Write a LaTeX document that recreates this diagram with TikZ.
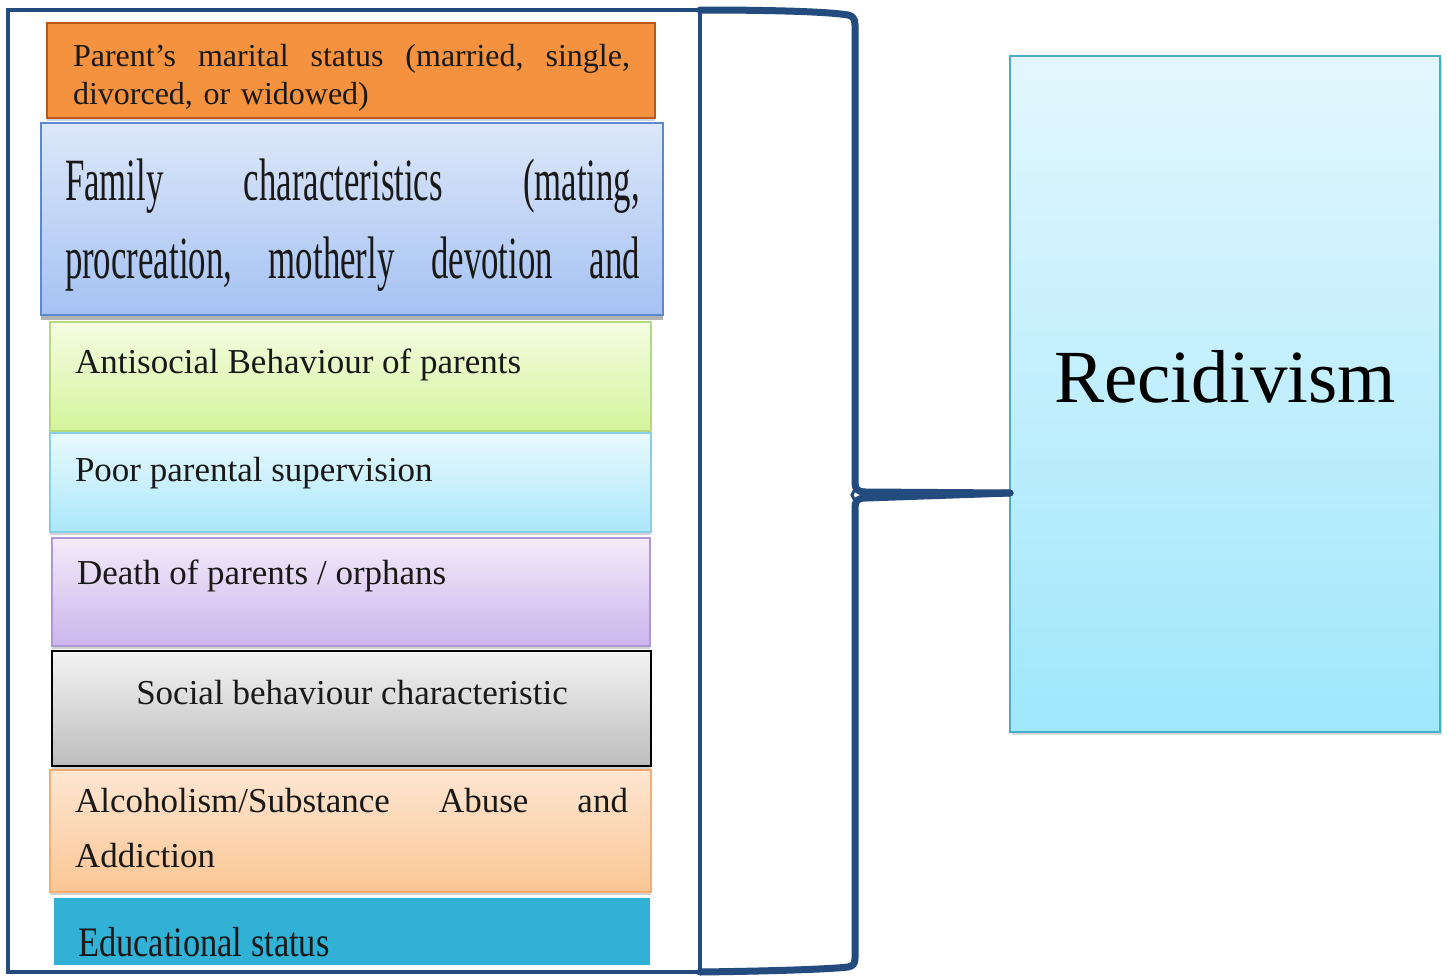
\documentclass[tikz,border=0pt]{standalone}
\usepackage{fontspec}
\setmainfont{Liberation Serif}
\newfontfamily\condfam[FakeStretch=0.58]{Liberation Serif}
\newfontfamily\condedu[FakeStretch=0.82]{Liberation Serif}
\usetikzlibrary{shadows,calc}
\definecolor{frameblue}{HTML}{234B7E}
\definecolor{orgF}{HTML}{F5923F}
\definecolor{orgD}{HTML}{B85A18}
\definecolor{famT}{HTML}{DDE7F9}
\definecolor{famB}{HTML}{A5C2F3}
\definecolor{famD}{HTML}{5A89D2}
\definecolor{grnT}{HTML}{F5FCE2}
\definecolor{grnB}{HTML}{D4F49C}
\definecolor{grnD}{HTML}{B5D97E}
\definecolor{lbT}{HTML}{E9F9FE}
\definecolor{lbB}{HTML}{ABE8FA}
\definecolor{lbD}{HTML}{86CFE6}
\definecolor{purT}{HTML}{F3EBF9}
\definecolor{purB}{HTML}{CCB5EC}
\definecolor{purD}{HTML}{AE98D6}
\definecolor{gryT}{HTML}{F3F3F3}
\definecolor{gryB}{HTML}{BDBDBD}
\definecolor{pchT}{HTML}{FDE6D2}
\definecolor{pchB}{HTML}{FBC694}
\definecolor{pchD}{HTML}{F5AE70}
\definecolor{tealF}{HTML}{32B1D6}
\definecolor{recT}{HTML}{E3F7FD}
\definecolor{recB}{HTML}{9FE7FC}
\definecolor{recD}{HTML}{4BACC6}
\tikzset{
  box/.style={rectangle, anchor=north west, inner sep=0pt, outer sep=0pt, line width=1.5pt},
  boxshadow/.style={drop shadow={shadow xshift=0pt, shadow yshift=-3pt, opacity=0.35}},
  txt/.style={inner sep=0pt, outer sep=0pt, anchor=base west, text=black!90},
  lbl/.style={txt, font=\fontsize{35}{55}\selectfont},
  bracepath/.style={draw=frameblue, line width=7pt, line join=round, line cap=round}
}
\begin{document}
\begin{tikzpicture}[x=1pt,y=-1pt]
\useasboundingbox (0,0) rectangle (1447,977);
\fill[white] (0,0) rectangle (1447,977);

% left stacked boxes
\node[box, boxshadow, draw=orgD, fill=orgF, line width=2.5pt, minimum width=608pt, minimum height=95pt] (b1) at (47,23) {};
\node[box, draw=famD, top color=famT, bottom color=famB, minimum width=622pt, minimum height=192pt, drop shadow={shadow xshift=0pt, shadow yshift=-5pt, opacity=0.6}] (b2) at (41,123) {};
\node[box, boxshadow, draw=grnD, top color=grnT, bottom color=grnB, minimum width=601pt, minimum height=109pt] (b3) at (50,322) {};
\node[box, boxshadow, draw=lbD, top color=lbT, bottom color=lbB, minimum width=601pt, minimum height=99pt] (b4) at (50,433) {};
\node[box, boxshadow, draw=purD, top color=purT, bottom color=purB, minimum width=598pt, minimum height=108pt] (b5) at (52,538) {};
\node[box, boxshadow, draw=black, line width=2pt, top color=gryT, bottom color=gryB, minimum width=599pt, minimum height=115pt] (b6) at (52,651) {};
\node[box, boxshadow, draw=pchD, top color=pchT, bottom color=pchB, minimum width=601pt, minimum height=122pt] (b7) at (50,770) {};
\node[box, fill=tealF, minimum width=596pt, minimum height=67pt] (b8) at (54,898) {};

% texts
\node[txt, font=\fontsize{32}{38}\selectfont, text width=557pt, align=left] (t1) at (73,66)
  {\hbox to 557pt{Parent’s\hfill marital\hfill status\hfill (married,\hfill single,}\\divorced, or widowed)};
\node[txt, font=\condfam\fontsize{60}{78}\selectfont, text width=575pt, align=left] (t2) at (65,200)
  {\hbox to 575pt{Family\hfill characteristics\hfill (mating,}\\\hbox to 575pt{procreation,\hfill motherly\hfill devotion\hfill and}};
\node[lbl] (t3) at (75,373) {Antisocial Behaviour of parents};
\node[lbl] (t4) at (75,481) {Poor parental supervision};
\node[lbl] (t5) at (77,584) {Death of parents / orphans};
\node[lbl, anchor=base] (t6) at (352,704) {Social behaviour characteristic};
\node[lbl, text width=553pt, align=left] (t7) at (75,812)
  {\hbox to 553pt{Alcoholism/Substance\hfill Abuse\hfill and}\\Addiction};
\node[txt, font=\condedu\fontsize{42}{50}\selectfont] (t8) at (78,956) {Educational status};

% frame
\node[box, draw=frameblue, line width=3.5pt, minimum width=692pt, minimum height=962pt] (fr) at (8,10) {};

% recidivism box
\node[box, draw=recD, line width=2pt, top color=recT, bottom color=recB, minimum width=430pt, minimum height=676pt,
  drop shadow={shadow xshift=2pt, shadow yshift=-3pt, opacity=0.3}] (rc) at (1010,56) {};
\node[txt, anchor=base, font=\fontsize{75}{90}\selectfont, text=black] (rt) at (1225,402) {Recidivism};

% brace
\coordinate (tip) at (852,495);
\draw[bracepath] (fr.north east) .. controls (780,10) and (830,12) .. (848,15)
  .. controls (853,16) and (855,19) .. (855,25) -- (855,482)
  .. controls (855,489) and (857,492) .. (866,492) -- ($(rc.west |- tip)+(0,-2)$);
\draw[bracepath] ($(rc.west |- tip)+(0,-2)$) -- (866,498)
  .. controls (857,498) and (855,501) .. (855,508) -- (855,958)
  .. controls (855,964) and (853,966) .. (848,967)
  .. controls (830,969) and (780,971) .. (fr.south east);
\draw[frameblue, line width=3pt] (855,489) -- (tip) -- (855,501);
\end{tikzpicture}
\end{document}
